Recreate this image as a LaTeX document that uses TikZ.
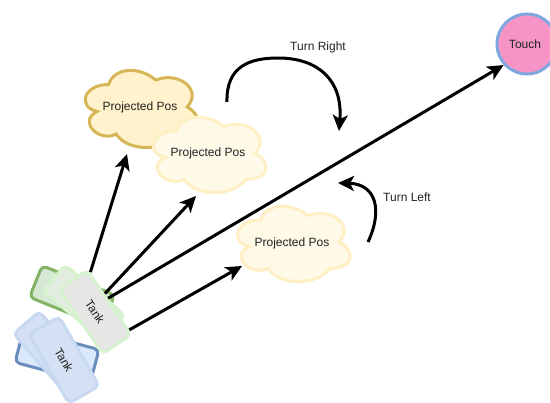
\documentclass[tikz,border=0pt]{standalone}
\usepackage{fontspec}
\setmainfont{Liberation Sans}
\usetikzlibrary{arrows.meta,calc}
\definecolor{cldDark}{HTML}{D6B656}
\definecolor{cldFill}{HTML}{FFF2CC}
\definecolor{cldLightDraw}{HTML}{FFEFC4}
\definecolor{cldLightFill}{HTML}{FFF9E8}
\definecolor{grnDark}{HTML}{82B366}
\definecolor{grnFill}{HTML}{D5E8D4}
\definecolor{grnLight}{HTML}{D7F2CF}
\definecolor{grnMidFill}{HTML}{E3ECE0}
\definecolor{grayFill}{HTML}{E6E7E5}
\definecolor{bluDark}{HTML}{6C8EBF}
\definecolor{bluFill}{HTML}{DAE8FC}
\definecolor{bluLight}{HTML}{C7D8F0}
\definecolor{bluMidFill}{HTML}{D4E1F5}
\definecolor{pinkFill}{HTML}{F794C6}
\definecolor{touchDraw}{HTML}{7EA6E0}
\definecolor{txt}{HTML}{222222}
\begin{document}
\begin{tikzpicture}[x=1pt,y=-1pt,
  lbl/.style={font=\fontsize{12}{14}\selectfont, text=txt},
  tankbox/.style={rectangle, rounded corners=5pt, minimum width=78pt, minimum height=34pt, line width=3pt, inner sep=0pt, font=\fontsize{12}{14}\selectfont, text=txt},
  cloudtext/.style={rectangle, minimum width=120pt, minimum height=90pt, inner sep=0pt, font=\fontsize{12}{14}\selectfont, text=txt},
  dcloud/.pic={\path[pic actions] (0.25,0.25) .. controls (0.05,0.25) and (0,0.5) .. (0.16,0.55)
     .. controls (0,0.66) and (0.18,0.9) .. (0.31,0.8)
     .. controls (0.4,1) and (0.7,1) .. (0.8,0.8)
     .. controls (1,0.8) and (1,0.6) .. (0.875,0.5)
     .. controls (1,0.3) and (0.8,0.1) .. (0.625,0.2)
     .. controls (0.5,0.05) and (0.3,0.05) .. (0.25,0.25) -- cycle;},
  arr/.style={line width=3pt, -{Stealth[length=16pt,width=15pt,inset=4pt]}}
]
\useasboundingbox (0,0) rectangle (550,403);

% clouds (outline drawn in the node's box)
\begin{scope}[shift={(77,62)}, x=126pt, y=-90pt]
  \pic[draw=cldDark, fill=cldFill, line width=3pt] {dcloud};
\end{scope}
\node[cloudtext] (c1) at (140,107) {Projected Pos};
\begin{scope}[shift={(145,109)}, x=126pt, y=-88pt]
  \pic[draw=cldLightDraw, fill=cldLightFill, line width=3pt] {dcloud};
\end{scope}
\node[cloudtext] (c2) at (208,153) {Projected Pos};
\begin{scope}[shift={(229,198)}, x=126pt, y=-88pt]
  \pic[draw=cldLightDraw, fill=cldLightFill, line width=3pt] {dcloud};
\end{scope}
\node[cloudtext] (c3) at (292,243) {Projected Pos};

% touch
\node[circle, minimum size=60pt, inner sep=0pt, line width=3pt, draw=touchDraw, fill=pinkFill] (touch) at (527,44) {};
\node[lbl] (touchlbl) at (525,44) {Touch};

% blue tanks
\node[tankbox, rotate=-15, draw=bluDark, fill=bluFill] (b1) at (57,356) {};
\node[tankbox, rotate=-49, draw=bluLight, fill=bluMidFill] (b2) at (52,352) {};
\node[tankbox, rotate=-60, minimum width=80pt, minimum height=35pt, draw=bluLight, fill=bluMidFill] (b3) at (64,360) {Tank};

% green tanks
\node[tankbox, rotate=-22, draw=grnDark, fill=grnFill] (g1) at (72,296) {};
\node[tankbox, rotate=-40, draw=grnLight, fill=grnMidFill] (g2) at (84,303) {};
\node[tankbox, rotate=-56, draw=grnLight, fill=grayFill] (g3) at (95,312) {Tank};

% start points on the front tank, tips at the targets
\coordinate (s1) at ($(g3.north west)!0.06!(g3.north east)$);
\coordinate (s2) at ($(g3.north west)!0.38!(g3.north east)$);
\coordinate (s3) at ($(g3.north west)!0.45!(g3.north east)$);
\coordinate (s4) at ($(g3.north west)!0.92!(g3.north east)$);
\coordinate (e1) at ($(c1.center)+(-13,47)$);
\coordinate (e2) at ($(c2.center)+(-12,43)$);
\coordinate (e4) at ($(c3.center)+(-50,23)$);

\draw[arr] (s1) -- (e1);
\draw[arr] (s2) -- (e2);
\draw[arr] (s3) -- (touch.222);
\draw[arr] (s4) -- (e4);

% turn arrows
\coordinate (tr0) at (227,102);
\coordinate (tr1) at (278,58);
\coordinate (tr2) at (339,131);
\draw[arr] (tr0) .. controls (226,66) and (250,58) .. (tr1) .. controls (318,58) and (343,80) .. (tr2);
\node[lbl] (trlbl) at (318,47) {Turn Right};

\coordinate (tl0) at (368,242);
\coordinate (tl1) at (338,183);
\draw[arr] (tl0) .. controls (383,210) and (376,184) .. (tl1);
\node[lbl] (tllbl) at (407,197) {Turn Left};
\end{tikzpicture}
\end{document}
